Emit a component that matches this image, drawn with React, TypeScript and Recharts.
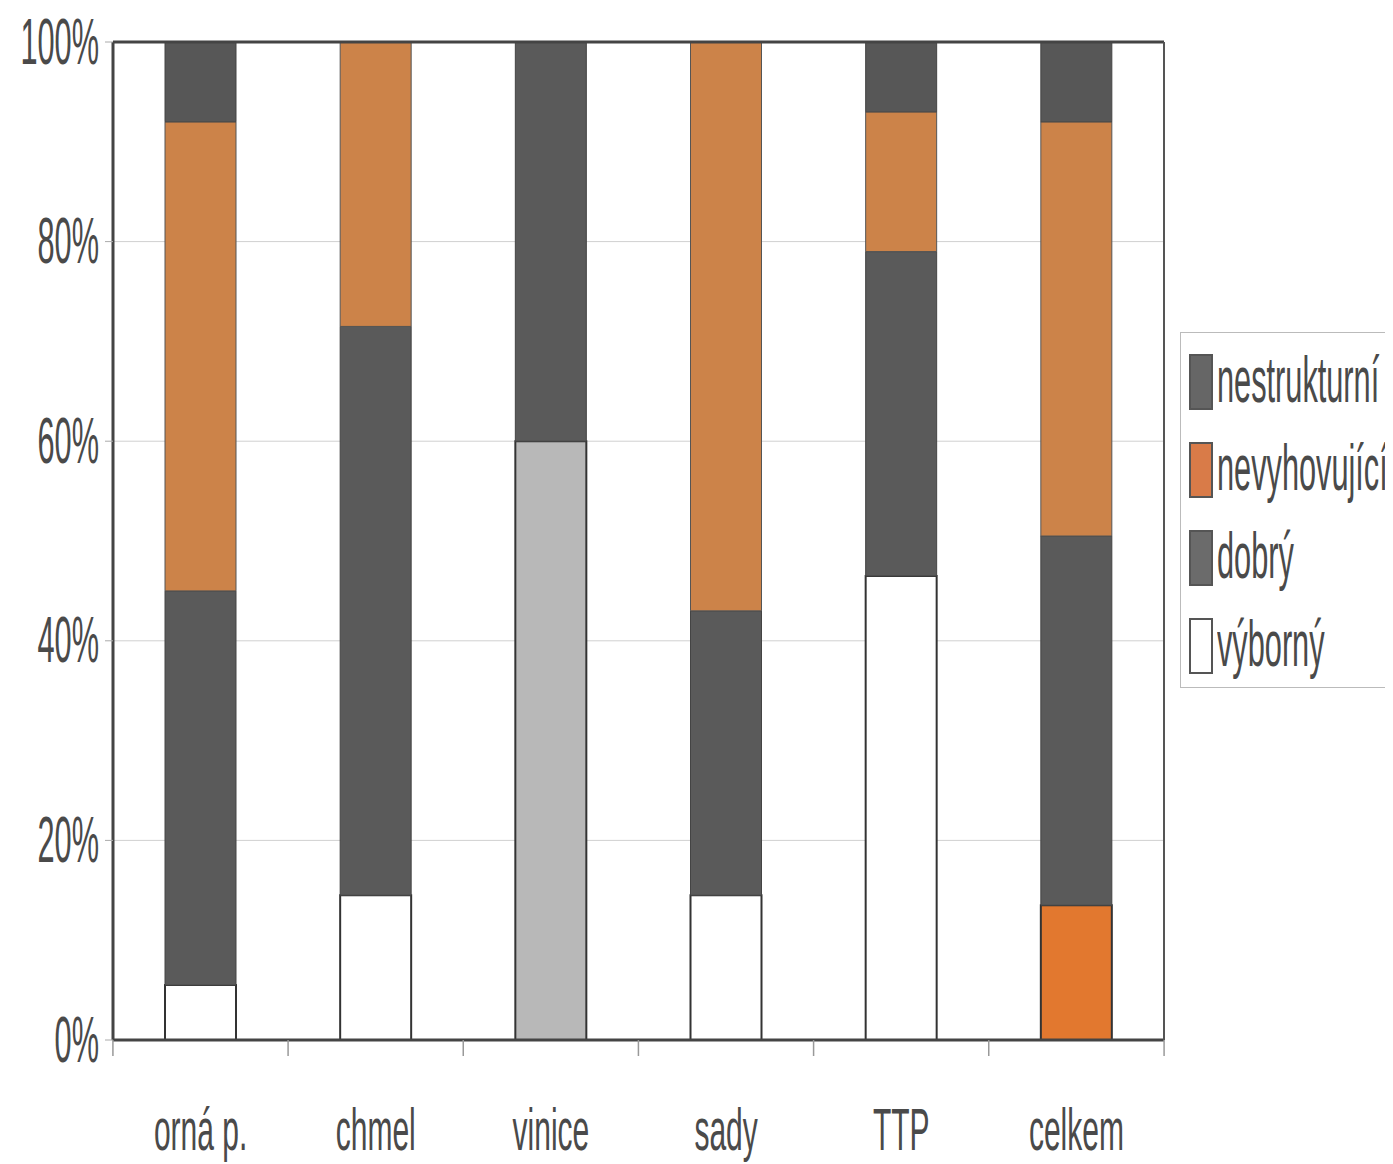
import React from "react";
import { BarChart, Bar, XAxis, YAxis, CartesianGrid, ReferenceLine, Cell } from "recharts";

const categories = ["orná p.", "chmel", "vinice", "sady", "TTP", "celkem"];
const vyborny = [5.5, 14.5, 60, 14.5, 46.5, 13.5];
const dobry = [39.5, 57, 40, 28.5, 32.5, 37];
const nevyhovujici = [47, 28.5, 0, 57, 14, 41.5];
const nestrukturni = [8, 0, 0, 0, 7, 8];
const yTicks = [0, 20, 40, 60, 80, 100];
const legendLabels = ["nestrukturní", "nevyhovující", "dobrý", "výborný"];
const legendColors = ["#666666", "#d97b48", "#6b6b6b", "#ffffff"];

const data = categories.map((c, i) => ({
  name: c,
  vyborny: vyborny[i],
  dobry: dobry[i],
  nevyhovujici: nevyhovujici[i],
  nestrukturni: nestrukturni[i],
}));

const W = 1393;
const H = 1164;
const M = { top: 42, right: 228, bottom: 24, left: 0 };
const YW = 113;
const plotW = W - M.left - M.right - YW;
const band = plotW / categories.length;

const FONT = "'Liberation Sans', Arial, sans-serif";
const TXT = "#4a4a4a";
const SX = 0.48;

const vybornyFill = ["#ffffff", "#ffffff", "#b8b8b8", "#ffffff", "#ffffff", "#e2782f"];

const YTick = (props: any) => {
  const { x, y, payload } = props;
  return (
    <text
      transform={`translate(${x - 4},${y}) scale(${SX},1)`}
      textAnchor="end"
      dominantBaseline="central"
      fontSize={64}
      fontFamily={FONT}
      fill={TXT}
    >
      {payload.value}%
    </text>
  );
};

const XTick = (props: any) => {
  const { x, y, payload, index } = props;
  return (
    <g>
      <line x1={x - band / 2} x2={x - band / 2} y1={y} y2={y + 16} stroke="#999" strokeWidth={1.5} />
      {index === categories.length - 1 && (
        <line x1={x + band / 2} x2={x + band / 2} y1={y} y2={y + 16} stroke="#999" strokeWidth={1.5} />
      )}
      <text
        transform={`translate(${x},${y + 110}) scale(${SX + 0.02},1)`}
        textAnchor="middle"
        fontSize={60}
        fontFamily={FONT}
        fill={TXT}
      >
        {payload.value}
      </text>
    </g>
  );
};

export default function App() {
  return (
    <div style={{ position: "relative", width: W, height: H, margin: "-8px 0 0 -8px", background: "#fff" }}>
      <BarChart width={W} height={H} data={data} margin={M} barSize={71}>
        <CartesianGrid vertical={false} stroke="#d0d0d0" strokeWidth={1} />
        <XAxis
          dataKey="name"
          height={100}
          tickLine={false}
          tickSize={0}
          tickMargin={0}
          axisLine={{ stroke: "#444", strokeWidth: 3 }}
          tick={<XTick />}
          interval={0}
        />
        <YAxis
          width={YW}
          domain={[0, 100]}
          ticks={yTicks}
          tick={<YTick />}
          tickSize={8}
          tickLine={{ stroke: "#aaa" }}
          axisLine={{ stroke: "#444", strokeWidth: 3 }}
        />
        <YAxis
          yAxisId="r"
          orientation="right"
          width={1}
          domain={[0, 100]}
          tick={false}
          tickLine={false}
          axisLine={{ stroke: "#555", strokeWidth: 2 }}
        />
        <ReferenceLine y={100} stroke="#444" strokeWidth={3} />
        <Bar dataKey="vyborny" stackId="a" stroke="#333" strokeWidth={2} isAnimationActive={false}>
          {data.map((d, i) => (
            <Cell key={i} fill={vybornyFill[i]} />
          ))}
        </Bar>
        <Bar dataKey="dobry" stackId="a" fill="#5a5a5a" stroke="#444" strokeWidth={1} isAnimationActive={false} />
        <Bar dataKey="nevyhovujici" stackId="a" fill="#cc8349" stroke="#555" strokeWidth={1} isAnimationActive={false} />
        <Bar dataKey="nestrukturni" stackId="a" fill="#575757" stroke="#444" strokeWidth={1} isAnimationActive={false} />
      </BarChart>
      <div
        style={{
          position: "absolute",
          left: 1180,
          top: 332,
          width: 213,
          height: 356,
          border: "1px solid #bbb",
          borderRight: "none",
          boxSizing: "border-box",
          background: "#fff",
        }}
      >
        {legendLabels.map((l, i) => (
          <div key={l} style={{ position: "absolute", left: 0, top: 48 + i * 88 - 27, height: 54, width: 213 }}>
            <div
              style={{
                position: "absolute",
                left: 8,
                top: 0,
                width: 20,
                height: 52,
                background: legendColors[i],
                border: "2px solid #555",
              }}
            />
            <div
              style={{
                position: "absolute",
                left: 36,
                top: -6,
                fontSize: 64,
                lineHeight: "64px",
                fontFamily: FONT,
                color: TXT,
                whiteSpace: "nowrap",
                transform: `scaleX(${SX})`,
                transformOrigin: "left center",
              }}
            >
              {l}
            </div>
          </div>
        ))}
      </div>
    </div>
  );
}
